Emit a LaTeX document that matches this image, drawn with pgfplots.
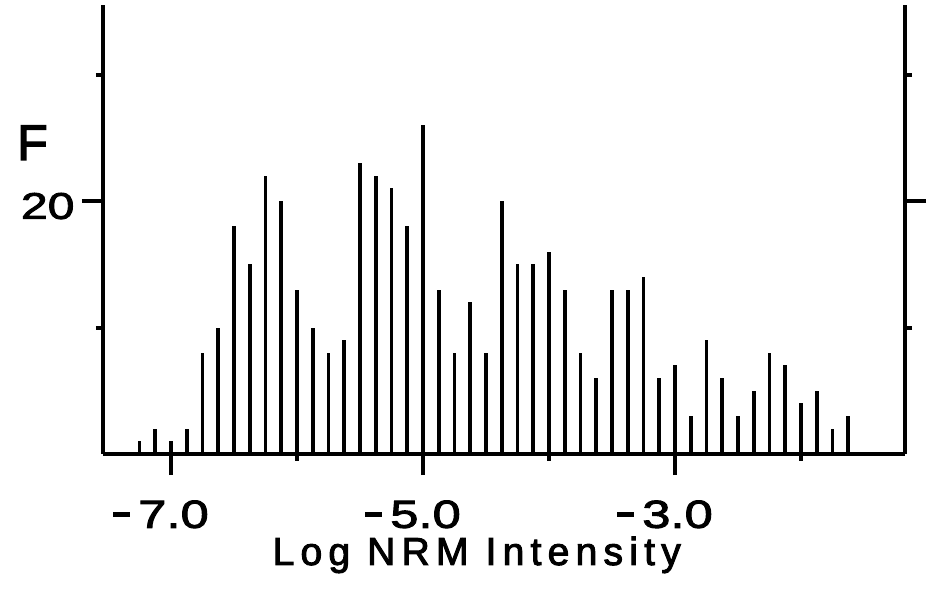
\documentclass[border=0pt]{standalone}
\usepackage{pgfplots}
\pgfplotsset{compat=1.18}
\usepackage{fontspec}
\setmainfont{Liberation Sans}
\newfontfamily\tickfont{Liberation Sans}[FakeStretch=1.3,FakeBold=2.5]
\newfontfamily\labfont{Liberation Sans}[LetterSpace=16,FakeBold=2.5]
\newfontfamily\bigfont{Liberation Sans}[FakeBold=3]
\newcommand{\dash}{\rule[11pt]{17pt}{5pt}\kern8pt}

\pgfplotstableread{
x y
-7.250 1
-7.125 2
-7.000 1
-6.875 2
-6.750 8
-6.625 10
-6.500 18
-6.375 15
-6.250 22
-6.125 20
-6.000 13
-5.875 10
-5.750 8
-5.625 9
-5.500 23
-5.375 22
-5.250 21
-5.125 18
-5.000 26
-4.875 13
-4.750 8
-4.625 12
-4.500 8
-4.375 20
-4.250 15
-4.125 15
-4.000 16
-3.875 13
-3.750 8
-3.625 6
-3.500 13
-3.375 13
-3.250 14
-3.125 6
-3.000 7
-2.875 3
-2.750 9
-2.625 6
-2.500 3
-2.375 5
-2.250 8
-2.125 7
-2.000 4
-1.875 5
-1.750 2
-1.625 3
}\spikes

\begin{document}
\begin{tikzpicture}
\path[use as bounding box] (-103pt,-139pt) rectangle (828pt,454pt);
\begin{axis}[
  scale only axis,
  width=802pt, height=449pt,
  xmin=-7.54, xmax=-1.175,
  ymin=0, ymax=35.5,
  axis x line=bottom,
  axis y line=box,
  axis line style={line width=4.5pt, -},
  x axis line style={-},
  y axis line style={-},
  tick align=outside,
  xtick={-7,-5,-3},
  xticklabels={\dash7.0,\dash5.0,\dash3.0},
  minor xtick={-6,-4,-2},
  ytick={20},
  yticklabels={20},
  minor ytick={10,30},
  major tick length=21pt,
  minor tick length=7pt,
  every tick/.style={black, line width=4pt},
  every minor tick/.style={black, line width=4pt},
  xticklabel style={font=\tickfont\fontsize{39}{40}\selectfont, anchor=north, xshift=-10pt, yshift=-22pt},
  yticklabel style={font=\tickfont\fontsize{37}{40}\selectfont, anchor=east, xshift=-4pt, yshift=-5pt},
  xlabel={Log NRM Intensity},
  xlabel style={at={(rel axis cs:0.466,0)}, anchor=base, yshift=-111pt,
    font=\labfont\fontsize{39}{42}\selectfont, inner sep=0pt},
  clip=false,
]
\addplot[ycomb, black, line width=3.8pt, mark=none] table[x=x, y=y] {\spikes};
\end{axis}
\node[anchor=base west, inner sep=0pt, font=\bigfont\fontsize{50}{52}\selectfont] at (-86pt,294pt) {F};
\end{tikzpicture}
\end{document}
